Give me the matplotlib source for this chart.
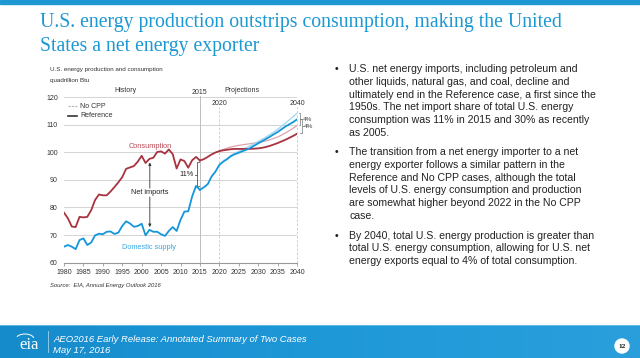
import numpy as np
import matplotlib.pyplot as plt
from matplotlib.patches import Ellipse
from matplotlib.colors import LinearSegmentedColormap

# valeurs (quadrillion Btu)
years_hist = list(range(1980, 2016))
cons_hist = [78.1, 76.1, 73.1, 72.9, 76.6, 76.4, 76.6, 79.0, 82.7, 84.7,
             84.4, 84.4, 85.8, 87.4, 89.1, 91.0, 94.0, 94.5, 95.0, 96.6,
             98.7, 96.1, 97.6, 98.0, 100.1, 100.3, 99.5, 101.0, 99.3, 94.1,
             97.4, 96.8, 94.4, 97.1, 98.3, 97.0]
prod_hist = [65.8, 66.4, 65.8, 64.9, 68.2, 68.8, 66.4, 67.3, 69.9, 70.5,
             70.3, 71.2, 71.3, 70.4, 70.9, 73.3, 75.0, 74.2, 73.0, 73.3,
             74.1, 69.9, 71.9, 71.2, 71.2, 70.3, 69.7, 71.5, 72.9, 71.5,
             75.5, 78.5, 78.6, 84.0, 87.8, 86.4]

years_proj = list(range(2015, 2041))
cons_ref = [97.0, 97.5, 98.3, 99.2, 99.9, 100.4, 100.7, 100.9, 101.1, 101.2,
            101.2, 101.2, 101.2, 101.2, 101.3, 101.4, 101.6, 101.9, 102.3, 102.8,
            103.3, 103.9, 104.5, 105.2, 105.9, 106.7]
prod_ref = [86.4, 87.3, 88.4, 91.2, 93.0, 95.4, 96.6, 97.5, 98.6, 99.3,
            99.8, 100.4, 100.9, 101.6, 102.4, 103.2, 104.0, 104.8, 105.6, 106.5,
            107.3, 108.3, 109.3, 110.1, 110.9, 111.9]

years_nocpp = list(range(2020, 2041))
cons_nocpp = [100.5, 101.0, 101.5, 101.9, 102.2, 102.5, 102.7, 102.9, 103.1, 103.3,
              103.5, 103.8, 104.1, 104.5, 105.0, 105.5, 106.2, 107.0, 107.8, 108.7,
              109.6]
prod_nocpp = [95.4, 96.7, 97.7, 98.9, 99.7, 100.3, 101.0, 101.7, 102.4, 103.1,
              103.9, 104.7, 105.5, 106.4, 107.3, 108.3, 109.4, 110.5, 111.7, 112.9,
              114.1]

yticks = [60, 70, 80, 90, 100, 110, 120]
xticks = list(range(1980, 2041, 5))

title_lines = ["U.S. energy production outstrips consumption, making the United",
               "States a net energy exporter"]
bullets = [
    ["U.S. net energy imports, including petroleum and",
     "other liquids, natural gas, and coal, decline and",
     "ultimately end in the Reference case, a first since the",
     "1950s. The net import share of total U.S. energy",
     "consumption was 11% in 2015 and 30% as recently",
     "as 2005."],
    ["The transition from a net energy importer to a net",
     "energy exporter follows a similar pattern in the",
     "Reference and No CPP cases, although the total",
     "levels of U.S. energy consumption and production",
     "are somewhat higher beyond 2022 in the No CPP",
     "case."],
    ["By 2040, total U.S. energy production is greater than",
     "total U.S. energy consumption, allowing for U.S. net",
     "energy exports equal to 4% of total consumption."],
]
bullet_y = [[69.3, 82.0, 94.7, 107.4, 120.1, 132.8],
            [152.3, 165.0, 177.7, 190.4, 203.1, 215.8],
            [235.7, 248.4, 261.1]]

RED = '#a8323f'
BLUE = '#1496da'
LBLUE = '#a3d5f0'
PINK = '#dca5ab'
TITLE = '#1d98d3'
W, H = 640, 358

plt.rcParams['font.family'] = ['Liberation Sans', 'DejaVu Sans']

def px(x, y):
    return x / W, 1 - y / H

fig = plt.figure(figsize=(6.4, 3.58), dpi=100)

# bandeau du haut
fig.patches.append(plt.Rectangle((0, 1 - 4 / H), 1, 4 / H, transform=fig.transFigure,
                                 color=TITLE, zorder=0))
for i, t in enumerate(title_lines):
    fig.text(*px(40, 22 + 25 * i), t, color=TITLE, fontsize=14.2,
             family='Liberation Serif', va='center', ha='left')

# graphique
x0, x1, ytop, ybot = 64, 297, 97, 262.7
ax = fig.add_axes([x0 / W, 1 - ybot / H, (x1 - x0) / W, (ybot - ytop) / H])
ax.set_xlim(1980, 2040)
ax.set_ylim(60, 120)
for s in ['top', 'right', 'left']:
    ax.spines[s].set_visible(False)
ax.spines['bottom'].set_color('#9a9a9a')
ax.spines['bottom'].set_linewidth(0.8)
ax.set_yticks(yticks)
ax.set_xticks(xticks)
ax.tick_params(axis='y', length=0, pad=4.5, labelsize=5, labelcolor='#333333')
ax.tick_params(axis='x', length=2.5, width=0.6, color='#9a9a9a', pad=2,
               labelsize=5, labelcolor='#333333')
for v in yticks[1:]:
    ax.axhline(v, color='#d4d4d4', lw=0.7, zorder=0)

ax.plot([2015, 2015], [60, 120.3], color='#bdbdbd', lw=0.7, zorder=1, clip_on=False)
for xv in [2020, 2040]:
    ax.plot([xv, xv], [60, 116.3], color='#c8c8c8', lw=0.6, ls=(0, (3, 2)), zorder=1,
            clip_on=False)

ax.plot(years_nocpp, cons_nocpp, color=PINK, lw=0.9, zorder=2)
ax.plot(years_nocpp, prod_nocpp, color=LBLUE, lw=0.9, zorder=2)
ax.plot(years_hist, cons_hist, color=RED, lw=1.3, zorder=3)
ax.plot(years_proj, cons_ref, color=RED, lw=1.3, zorder=3)
ax.plot(years_hist, prod_hist, color=BLUE, lw=1.3, zorder=4)
ax.plot(years_proj, prod_ref, color=BLUE, lw=1.3, zorder=4)

# textes au-dessus du graphique
fs = 5
ax.text(1995.9, 122.3, 'History', fontsize=fs, ha='center', va='center', color='#333333')
ax.text(2015, 121.7, '2015', fontsize=fs, ha='center', va='center', color='#333333')
ax.text(2025.9, 122.5, 'Projections', fontsize=fs, ha='center', va='center', color='#333333')
ax.text(2020, 117.7, '2020', fontsize=fs, ha='center', va='center', color='#333333')
ax.text(2040, 117.7, '2040', fontsize=fs, ha='center', va='center', color='#333333')

# legende
ax.plot([1981.0, 1983.4], [116.7, 116.7], color='#b5b5b5', lw=0.8, ls=(0, (2, 1)))
ax.text(1984.1, 116.7, 'No CPP', fontsize=fs, va='center', color='#333333')
ax.plot([1981.0, 1983.4], [113.3, 113.3], color='#333333', lw=1.2)
ax.text(1984.1, 113.3, 'Reference', fontsize=fs, va='center', color='#333333')

ax.text(2002.3, 101.9, 'Consumption', fontsize=5.3, ha='center', va='center', color='#b84a55')
ax.text(2001.9, 65.5, 'Domestic supply', fontsize=5.3, ha='center', va='center', color='#35a9e4')

# fleches net imports
ax.text(2002.1, 85.4, 'Net imports', fontsize=5.3, ha='center', va='center', color='#222222')
ax.annotate('', xy=(2002.1, 96.3), xytext=(2002.1, 87.0),
            arrowprops=dict(arrowstyle='-|>', color='#333333', lw=0.6,
                            mutation_scale=4, shrinkA=0, shrinkB=0))
ax.annotate('', xy=(2002.1, 72.9), xytext=(2002.1, 83.8),
            arrowprops=dict(arrowstyle='-|>', color='#333333', lw=0.6,
                            mutation_scale=4, shrinkA=0, shrinkB=0))

# crochet 11%
bx = 2014.3
ax.plot([bx + 0.5, bx, bx, bx + 0.5], [96.3, 96.3, 87.6, 87.6], color='#555555', lw=0.6)
ax.plot([bx - 0.6, bx], [91.9, 91.9], color='#555555', lw=0.6)
ax.text(bx - 0.8, 91.9, '11%', fontsize=5.3, ha='right', va='center', color='#222222')

# crochets 4%
for bxx, top, bot, ty in [(2040.8, 114.2, 109.7, 111.9), (2041.2, 112.0, 106.8, 109.4)]:
    ax.plot([bxx - 0.4, bxx, bxx, bxx - 0.4], [top, top, bot, bot], color='#777777',
            lw=0.5, clip_on=False)
    ax.plot([bxx, bxx + 0.5], [ty, ty], color='#777777', lw=0.5, clip_on=False)
    ax.text(bxx + 0.6, ty, '4%', fontsize=4.6, va='center', color='#444444')

fig.text(*px(50, 69.7), 'U.S. energy production and consumption', fontsize=4.5,
         va='center', color='#333333')
fig.text(*px(50, 80.7), 'quadrillion Btu', fontsize=4.5, va='center', color='#333333')
fig.text(*px(50, 286), 'Source:  EIA, Annual Energy Outlook 2016', fontsize=4.2,
         style='italic', va='center', color='#333333')

# puces a droite
for lines, ys in zip(bullets, bullet_y):
    fig.text(*px(336, ys[0]), '•', fontsize=7.6, va='center', ha='center', color='#222222')
    for t, y in zip(lines, ys):
        fig.text(*px(349, y), t, fontsize=7.6, va='center', color='#222222')

# bandeau du bas
bax = fig.add_axes([0, 0, 1, 33 / H])
grad = np.linspace(0, 1, 256).reshape(1, -1)
cmap = LinearSegmentedColormap.from_list('b', ['#168bcc', '#1f98d8', '#2a9fdc'])
bax.imshow(np.vstack([grad, grad]), aspect='auto', cmap=cmap, extent=[0, 1, 0, 1])
bax.axhline(1, color='#6cc0ea', lw=1.2)
bax.set_xlim(0, 1)
bax.set_ylim(0, 1)
bax.axis('off')

fig.text(*px(29, 345), 'eia', fontsize=12, family='Liberation Serif', color='white',
         ha='center', va='center')
th = np.linspace(0.3, 2.6, 30)
fig.lines.append(plt.Line2D(px(25, 0)[0] + 9 / W * np.cos(th), 1 - 339 / H + 5 / H * np.sin(th),
                            transform=fig.transFigure, color='white', lw=0.7))
fig.lines.append(plt.Line2D([48 / W, 48 / W], [1 - 352 / H, 1 - 331 / H],
                            transform=fig.transFigure, color='#9fd3f0', lw=0.6))
fig.text(*px(53, 339), 'AEO2016 Early Release: Annotated Summary of Two Cases', fontsize=6.8,
         style='italic', color='white', va='center')
fig.text(*px(53, 350.5), 'May 17, 2016', fontsize=6.8, style='italic', color='white',
         va='center')
fig.patches.append(Ellipse(px(622, 346), 14 / W, 14 / H, transform=fig.transFigure,
                           color='white'))
fig.text(*px(622, 346), '12', fontsize=5.3, weight='bold', family='Liberation Serif',
         ha='center', va='center', color='#111111')

fig.savefig('out.png', dpi=100)
